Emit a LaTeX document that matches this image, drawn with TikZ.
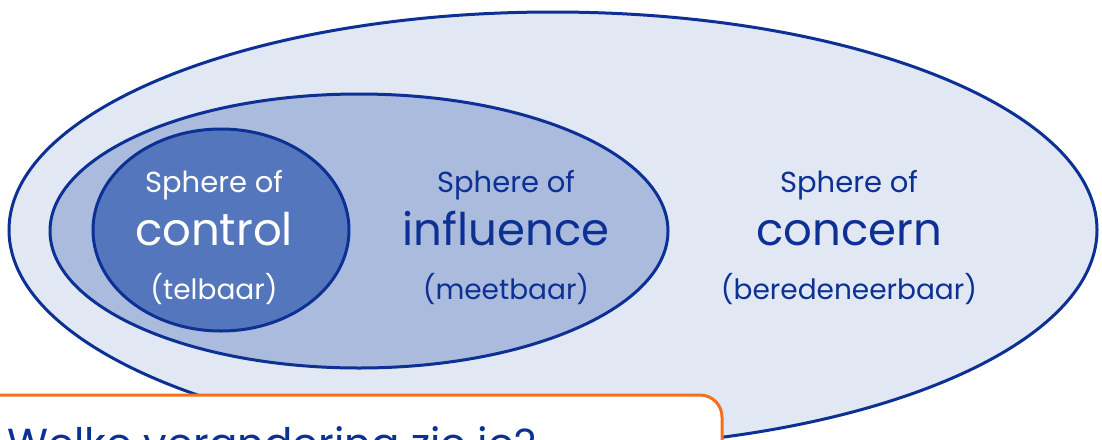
\documentclass[tikz,border=0pt]{standalone}
\usepackage{fontspec}
\setmainfont{Poppins}
\usetikzlibrary{positioning}

\definecolor{rimblue}{RGB}{12,48,148}
\definecolor{concernfill}{RGB}{225,231,243}
\definecolor{influencefill}{RGB}{170,187,221}
\definecolor{controlfill}{RGB}{84,118,188}
\definecolor{boxorange}{RGB}{243,112,33}

\begin{document}
\begin{tikzpicture}[x=1pt, y=-1pt, line width=3pt,
    small/.style={anchor=base, font=\fontsize{29}{34}\selectfont, text=rimblue},
    big/.style={anchor=base, font=\fontsize{45}{54}\selectfont, text=rimblue},
    note/.style={anchor=base, font=\fontsize{28}{33}\selectfont, text=rimblue}]
	\useasboundingbox (0,0) rectangle (1102,439);
	\clip (0,0) rectangle (1102,439);
	% the three spheres
	\filldraw[draw=rimblue, fill=concernfill] (553,230) ellipse [x radius=544, y radius=218];
	\filldraw[draw=rimblue, fill=influencefill] (359,231) ellipse [x radius=309, y radius=137];
	\filldraw[draw=rimblue, fill=controlfill] (221,230) ellipse [x radius=128, y radius=101];
	% control
	\node (ctrlTop) [small, text=white] at (214,192) {Sphere of};
	\node (ctrlWord) [big, text=white] at (214,245) {control};
	\node (ctrlNote) [note, text=white] at (214,299) {(telbaar)};
	% influence
	\node (inflTop) [small] at (506,192) {Sphere of};
	\node (inflWord) [big] at (506,245) {influence};
	\node (inflNote) [note] at (506,299) {(meetbaar)};
	% concern
	\node (concTop) [small] at (849,192) {Sphere of};
	\node (concWord) [big] at (849,245) {concern};
	\node (concNote) [note] at (849,299) {(beredeneerbaar)};
	% question box
	\filldraw[draw=boxorange, fill=white, line width=3pt, rounded corners=22pt] (-20,395) rectangle (722,500);
	\node (question) [anchor=base west, font=\fontsize{42}{50}\selectfont, text=rimblue, inner sep=0pt] at (6,458) {Welke verandering zie je?};
\end{tikzpicture}
\end{document}
